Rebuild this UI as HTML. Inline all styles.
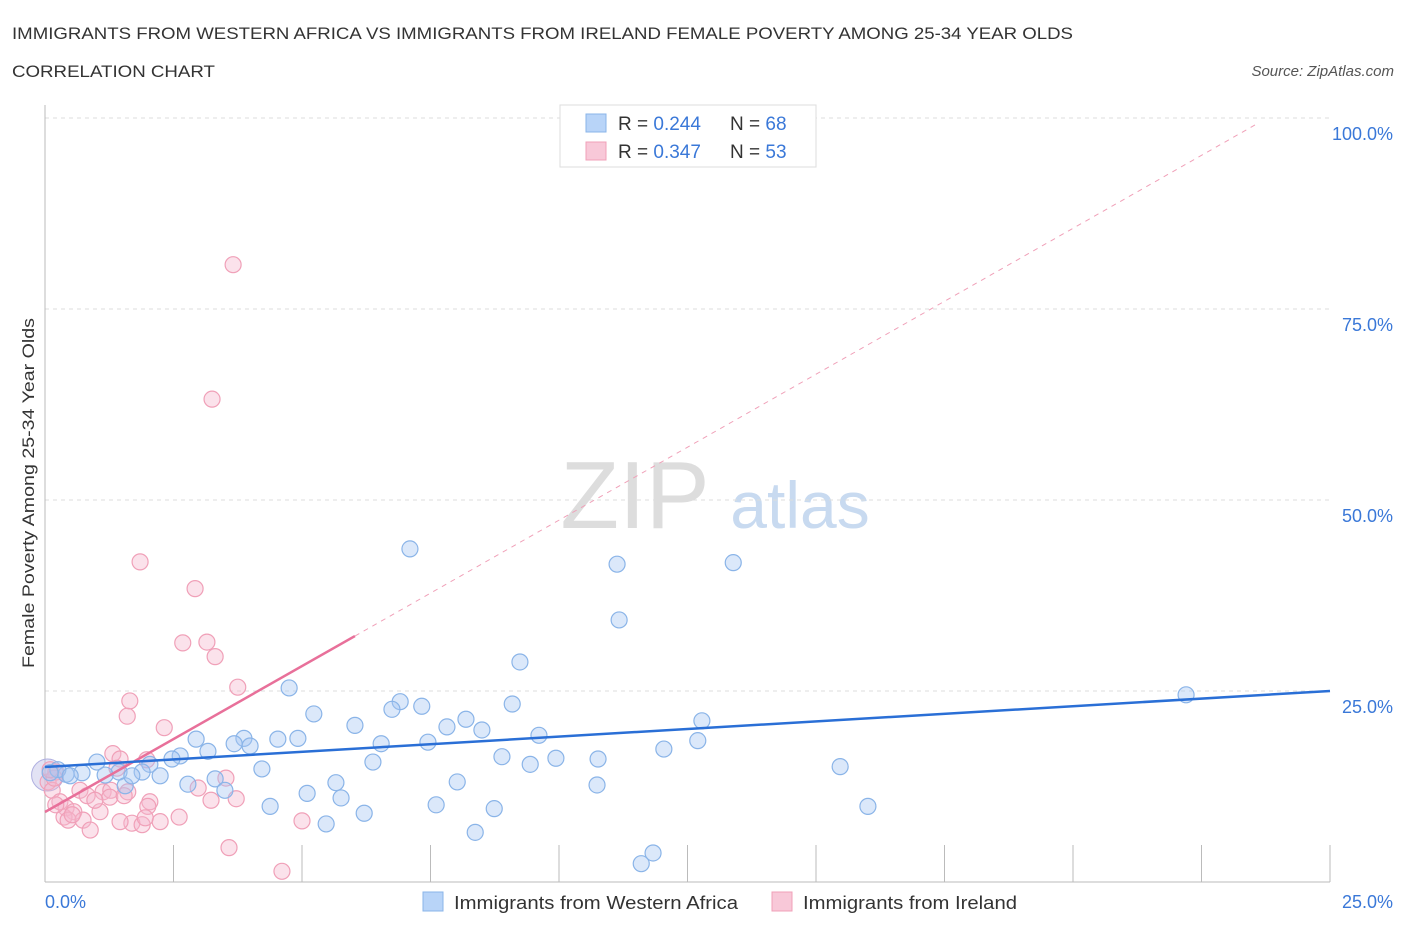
<!DOCTYPE html>
<html><head><meta charset="utf-8"><style>
body{margin:0;background:#fff;font-family:"Liberation Sans",sans-serif;}
svg text{font-family:"Liberation Sans",sans-serif;}
</style></head><body>
<svg id="chart" width="1406" height="930">
<text x="12" y="39" font-size="17" fill="#333" textLength="1061" lengthAdjust="spacingAndGlyphs">IMMIGRANTS FROM WESTERN AFRICA VS IMMIGRANTS FROM IRELAND FEMALE POVERTY AMONG 25-34 YEAR OLDS</text>
<text x="12" y="77" font-size="17" fill="#333" textLength="203" lengthAdjust="spacingAndGlyphs">CORRELATION CHART</text>
<text x="1394" y="76" font-size="15" fill="#555" text-anchor="end" font-style="italic">Source: ZipAtlas.com</text>
<text x="34" y="493" font-size="17" fill="#333" text-anchor="middle" textLength="350" lengthAdjust="spacingAndGlyphs" transform="rotate(-90 34 493)">Female Poverty Among 25-34 Year Olds</text>
<text x="635" y="528" font-size="96" fill="#ddd" text-anchor="middle" font-family="Liberation Serif">ZIP</text>
<text x="800" y="528" font-size="66" fill="#c8daf0" text-anchor="middle">atlas</text>
<g id="grid"></g><g id="marks"></g>
<g>
<rect x="560" y="105" width="256" height="62" fill="#fff" stroke="#ddd"/>
<rect x="586" y="114" width="20" height="18" fill="#b8d4f8" stroke="#8ab4e8"/>
<rect x="586" y="142" width="20" height="18" fill="#f8c8d8" stroke="#f0a0b8"/>
<text x="618" y="130" font-size="19" fill="#333">R = <tspan fill="#3a78d8">0.244</tspan></text>
<text x="730" y="130" font-size="19" fill="#333">N = <tspan fill="#3a78d8">68</tspan></text>
<text x="618" y="158" font-size="19" fill="#333">R = <tspan fill="#3a78d8">0.347</tspan></text>
<text x="730" y="158" font-size="19" fill="#333">N = <tspan fill="#3a78d8">53</tspan></text>
</g>
<g>
<rect x="423" y="892" width="20" height="19" fill="#b8d4f8" stroke="#8ab4e8"/>
<text x="454" y="909" font-size="18" fill="#333" textLength="284" lengthAdjust="spacingAndGlyphs">Immigrants from Western Africa</text>
<rect x="772" y="892" width="20" height="19" fill="#f8c8d8" stroke="#f0a0b8"/>
<text x="803" y="909" font-size="18" fill="#333" textLength="214" lengthAdjust="spacingAndGlyphs">Immigrants from Ireland</text>
</g>
</svg>
<script>
const yTicks=[25,50,75,100];
const yTickLabels=["25.0%","50.0%","75.0%","100.0%"];
const xTickLabels=["0.0%","25.0%"];
const blueX=[7.10,11.13,13.39,11.17,9.24,4.75,22.20,6.91,6.75,7.33,5.23,8.19,6.03,7.82,8.50,9.09,12.78,9.61,3.87,4.53,4.92,3.68,2.94,3.99,6.54,7.45,3.17,12.04,12.70,2.63,2.47,8.89,9.94,10.76,6.38,9.44,2.04,4.22,15.47,1.01,2.24,1.89,1.44,1.17,0.72,0.41,0.25,0.10,3.31,2.78,3.50,5.66,8.02,5.10,1.56,10.74,5.76,4.38,7.61,8.74,16.01,6.21,5.47,8.37,11.83,11.60,1.69,0.49];
const blueY=[43.6,41.6,41.8,34.3,28.8,25.4,24.5,23.6,22.6,23.0,22.0,21.3,20.5,20.3,19.9,23.3,21.1,19.2,18.8,18.7,18.8,18.1,18.7,17.8,18.1,18.3,17.1,17.4,18.5,16.5,16.1,16.4,16.2,16.1,15.7,15.4,15.4,14.8,15.1,15.7,13.9,14.4,14.4,14.0,14.3,14.1,14.7,14.3,13.5,12.8,12.0,13.0,13.1,11.6,12.6,12.7,11.0,9.9,10.1,9.6,9.9,9.0,7.6,6.5,3.8,2.4,13.9,13.9];
const pinkX=[3.66,3.25,1.85,2.92,2.68,3.15,3.31,3.75,1.65,1.60,2.32,1.32,1.46,1.98,1.40,3.52,0.21,0.06,0.14,2.98,1.13,1.28,1.61,0.68,0.82,0.29,2.04,3.72,3.23,2.00,0.41,1.07,0.56,2.61,0.37,0.45,1.69,1.46,2.24,1.89,0.74,0.88,5.00,3.58,4.61,0.18,1.26,1.54,0.53,0.21,0.97,1.95,0.10];
const pinkY=[80.8,63.2,41.9,38.4,31.3,31.4,29.5,25.5,23.7,21.7,20.2,16.8,16.1,16.0,14.9,13.6,14.4,13.1,12.0,12.3,11.8,12.0,11.8,12.0,11.3,10.5,10.5,10.9,10.7,9.9,9.7,9.2,9.2,8.5,8.5,8.1,7.7,7.9,7.9,7.5,8.1,6.8,8.0,4.5,1.4,13.6,11.1,11.3,8.8,10.1,10.7,8.4,14.7];
const blueTrend=[15.05,0.398];
const pinkTrend=[9.16,3.82];
const pinkSolidEnd=6.03, pinkDashEnd=23.55;

const NS="http://www.w3.org/2000/svg";
const X=v=>45+v*51.4, Y=v=>882-v*7.64;
function mk(t,a,p){const e=document.createElementNS(NS,t);for(const k in a)e.setAttribute(k,a[k]);p.appendChild(e);return e;}
const grid=document.getElementById('grid'), marks=document.getElementById('marks');
yTicks.forEach((t,i)=>{
 const l=mk('line',{x1:45,x2:1330,y1:Y(t),y2:Y(t),stroke:'#ddd','stroke-dasharray':'4,4'},grid);
 
 
 const tx=mk('text',{x:1393,y:Y(t)+22,'font-size':18,fill:'#3a78d8','text-anchor':'end'},grid);tx.textContent=yTickLabels[i];
 
 
});
for(let i=0;i<=10;i++){const l=mk('line',{x1:X(i*2.5),x2:X(i*2.5),y1:845,y2:882,stroke:'#bbb'},grid);
 
 }
mk('line',{x1:45,x2:1330,y1:882,y2:882,stroke:'#bbb'},grid);
mk('line',{x1:45,x2:45,y1:105,y2:882,stroke:'#bbb'},grid);
const xl0=mk('text',{x:45,y:908,'font-size':18,fill:'#3a78d8'},grid);xl0.textContent=xTickLabels[0];


const xl1=mk('text',{x:1393,y:908,'font-size':18,fill:'#3a78d8','text-anchor':'end'},grid);xl1.textContent=xTickLabels[1];


const big=mk('circle',{cx:X(0.05),cy:Y(14),r:16,fill:'rgba(190,190,230,0.45)',stroke:'#b0b0e0'},marks);


pinkX.forEach((x,i)=>{const c=mk('circle',{cx:X(x),cy:Y(pinkY[i]),r:8,fill:'rgba(246,182,204,0.4)',stroke:'#f0a0b8','stroke-width':1.2},marks);
 
 });
blueX.forEach((x,i)=>{const c=mk('circle',{cx:X(x),cy:Y(blueY[i]),r:8,fill:'rgba(164,198,242,0.4)',stroke:'#8ab4e8','stroke-width':1.2},marks);
 
 });
const pd=mk('line',{x1:X(pinkSolidEnd),y1:Y(pinkTrend[0]+pinkTrend[1]*pinkSolidEnd),x2:X(pinkDashEnd),y2:Y(pinkTrend[0]+pinkTrend[1]*pinkDashEnd),stroke:'#f0a0b8','stroke-dasharray':'5,5','stroke-width':1},marks);


const ps=mk('line',{x1:X(0),y1:Y(pinkTrend[0]),x2:X(pinkSolidEnd),y2:Y(pinkTrend[0]+pinkTrend[1]*pinkSolidEnd),stroke:'#e8709a','stroke-width':2.5},marks);


const bl=mk('line',{x1:X(0),y1:Y(blueTrend[0]),x2:X(25),y2:Y(blueTrend[0]+blueTrend[1]*25),stroke:'#2a6fd6','stroke-width':2.5},marks);


</script>
</body></html>
